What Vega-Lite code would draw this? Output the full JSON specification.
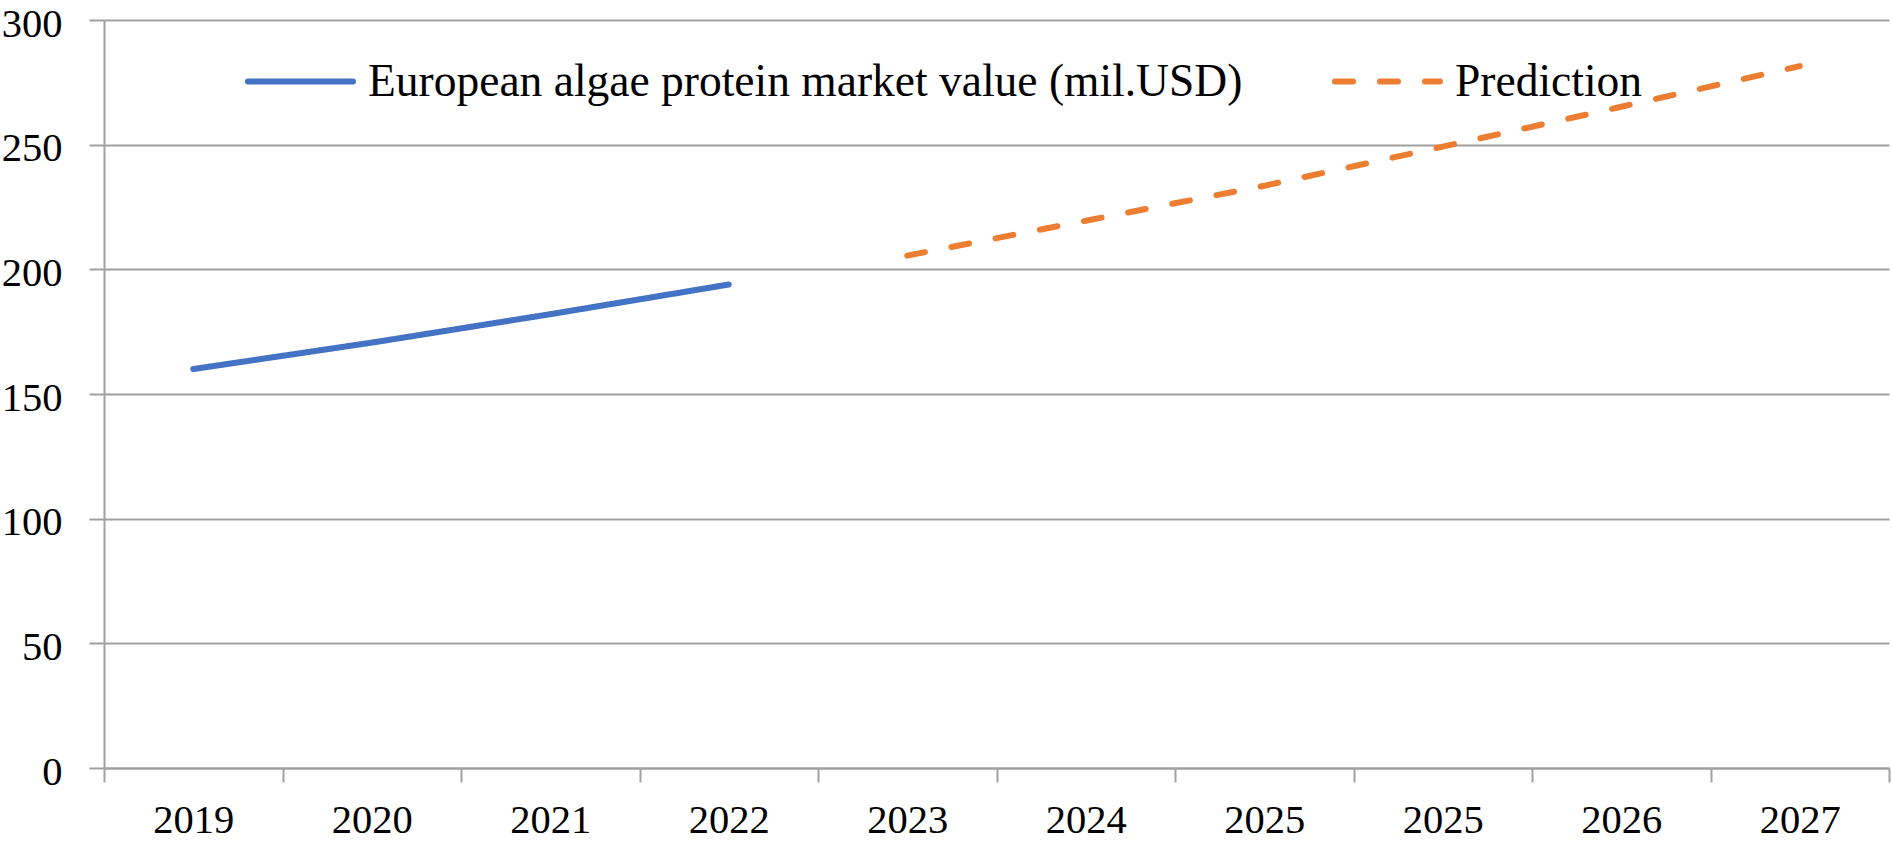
{
  "$schema": "https://vega.github.io/schema/vega-lite/v6.json",
  "width": 1785,
  "height": 748,
  "autosize": {"type": "none"},
  "padding": {"left": 104, "top": 20, "right": 3, "bottom": 74},
  "background": "white",
  "config": {
    "view": {"stroke": null},
    "font": "Liberation Serif",
    "axis": {
      "labelFont": "Liberation Serif",
      "labelFontSize": 40.5,
      "labelColor": "#000000",
      "domainColor": "#a0a0a0",
      "domainWidth": 2,
      "tickColor": "#a0a0a0",
      "tickWidth": 2,
      "gridColor": "#a0a0a0",
      "gridWidth": 2,
      "title": null
    }
  },
  "data": {
    "values": [
      {"period": "2019", "value": 160, "series": "European algae protein market value (mil.USD)"},
      {"period": "2020", "value": 170.6, "series": "European algae protein market value (mil.USD)"},
      {"period": "2021", "value": 182, "series": "European algae protein market value (mil.USD)"},
      {"period": "2022", "value": 193.9, "series": "European algae protein market value (mil.USD)"},
      {"period": "2023", "value": 205.5, "series": "Prediction"},
      {"period": "2024", "value": 219.5, "series": "Prediction"},
      {"period": "2025", "value": 233.5, "series": "Prediction"},
      {"period": "2025b", "value": 249.2, "series": "Prediction"},
      {"period": "2026", "value": 265.2, "series": "Prediction"},
      {"period": "2027", "value": 281.5, "series": "Prediction"}
    ]
  },
  "mark": {"type": "line", "strokeWidth": 6, "strokeCap": "round"},
  "encoding": {
    "x": {
      "field": "period",
      "type": "ordinal",
      "scale": {
        "type": "band",
        "domain": ["2019", "2020", "2021", "2022", "2023", "2024", "2025", "2025b", "2026", "2027"],
        "paddingInner": 0,
        "paddingOuter": 0
      },
      "axis": {
        "labelExpr": "replace(datum.label, 'b', '')",
        "labelAngle": 0,
        "tickBand": "extent",
        "tickSize": 14,
        "labelPadding": 50,
        "labelBaseline": "alphabetic",
        "grid": false
      }
    },
    "y": {
      "field": "value",
      "type": "quantitative",
      "scale": {"domain": [0, 300], "nice": false, "zero": true},
      "axis": {
        "values": [0, 50, 100, 150, 200, 250, 300],
        "grid": true,
        "tickSize": 15,
        "labelPadding": 27,
        "labelOffset": 4
      }
    },
    "color": {
      "field": "series",
      "type": "nominal",
      "scale": {
        "domain": ["European algae protein market value (mil.USD)", "Prediction"],
        "range": ["#4472C4", "#ED7D31"]
      },
      "legend": {
        "title": null,
        "orient": "none",
        "direction": "horizontal",
        "legendX": 141,
        "legendY": 6,
        "symbolType": "stroke",
        "symbolSize": 11025,
        "symbolStrokeWidth": 6,
        "labelFont": "Liberation Serif",
        "labelFontSize": 45.5,
        "labelColor": "#000000",
        "labelLimit": 0,
        "labelOffset": 12,
        "columnPadding": 80,
        "encode": {"symbols": {"update": {"strokeCap": {"value": "round"}}}}
      }
    },
    "strokeDash": {
      "field": "series",
      "type": "nominal",
      "scale": {
        "domain": ["European algae protein market value (mil.USD)", "Prediction"],
        "range": [[1, 0], [18, 27]]
      },
      "legend": null
    }
  }
}
